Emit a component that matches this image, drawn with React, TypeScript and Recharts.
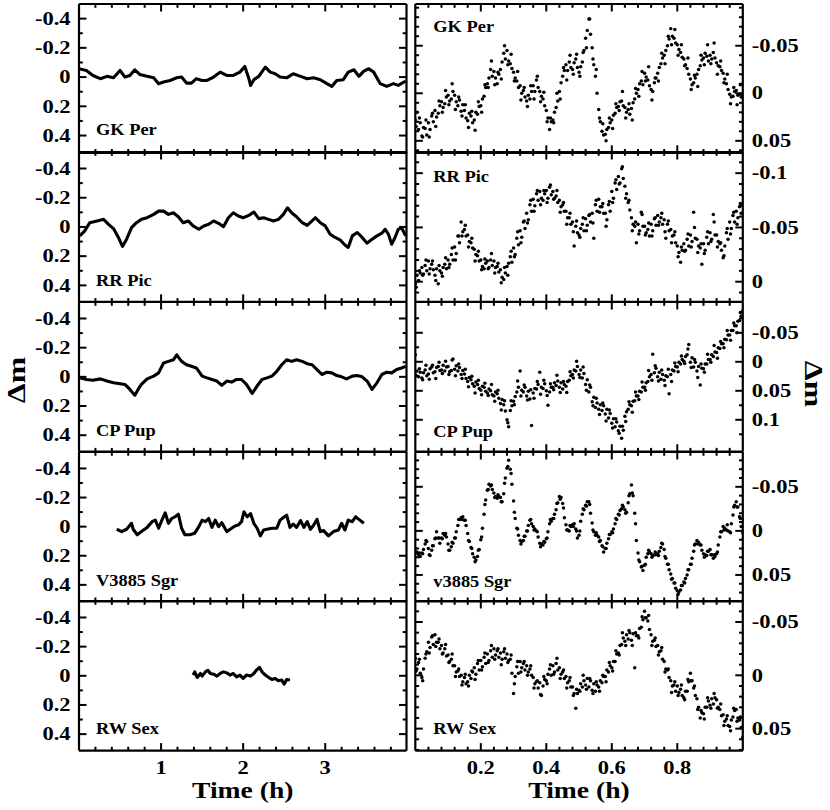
import React from 'react';
import { ComposedChart, Line, Scatter, XAxis, YAxis } from 'recharts';

const FONT = '"Liberation Serif", "Times New Roman", Times, serif';

// ---------------- axis ticks ----------------
const leftXTicks = [0.2, 0.4, 0.6, 0.8, 1, 1.2, 1.4, 1.6, 1.8, 2, 2.2, 2.4, 2.6, 2.8, 3, 3.2, 3.4, 3.6, 3.8];
const leftXMajor = [1, 2, 3];
const rightXTicks = [0.04, 0.08, 0.12, 0.16, 0.2, 0.24, 0.28, 0.32, 0.36, 0.4, 0.44, 0.48, 0.52, 0.56, 0.6, 0.64, 0.68, 0.72, 0.76, 0.8, 0.84, 0.88, 0.92, 0.96];
const rightXMajor = [0.2, 0.4, 0.6, 0.8];
const leftYTicks = [-0.4, -0.3, -0.2, -0.1, 0, 0.1, 0.2, 0.3, 0.4];
const leftYMajor = [-0.4, -0.2, 0, 0.2, 0.4];
const gkPerRTicks = [-0.09, -0.08, -0.07, -0.06, -0.05, -0.04, -0.03, -0.02, -0.01, 0, 0.01, 0.02, 0.03, 0.04, 0.05, 0.06];
const rrPicRTicks = [-0.11, -0.1, -0.09, -0.08, -0.07, -0.06, -0.05, -0.04, -0.03, -0.02, -0.01, 0, 0.01];
const cpPupRTicks = [-0.075, -0.05, -0.025, 0, 0.025, 0.05, 0.075, 0.1, 0.125];
const v3885RTicks = [-0.08, -0.07, -0.06, -0.05, -0.04, -0.03, -0.02, -0.01, 0, 0.01, 0.02, 0.03, 0.04, 0.05, 0.06, 0.07];
const rwSexRTicks = [-0.06, -0.05, -0.04, -0.03, -0.02, -0.01, 0, 0.01, 0.02, 0.03, 0.04, 0.05, 0.06, 0.07];
const rightMajorA = [-0.05, 0, 0.05];
const rightMajorRR = [-0.1, -0.05, 0];
const rightMajorCP = [-0.05, 0, 0.05, 0.1];

// ---------------- left column: full light curves (time in h, Δm) ----------------
const gkPerLT = [0.00, 0.09, 0.17, 0.26, 0.34, 0.42, 0.50, 0.56, 0.62, 0.68, 0.74, 0.83, 0.91, 0.97, 1.03, 1.11, 1.19, 1.25, 1.31, 1.37, 1.43, 1.50, 1.56, 1.64, 1.72, 1.80, 1.88, 1.96, 2.02, 2.07, 2.09, 2.13, 2.19, 2.27, 2.33, 2.39, 2.45, 2.53, 2.61, 2.70, 2.78, 2.86, 2.94, 3.02, 3.08, 3.14, 3.22, 3.28, 3.35, 3.41, 3.47, 3.53, 3.59, 3.67, 3.75, 3.83, 3.89, 3.98];
const gkPerLM = [-0.057, -0.045, -0.011, 0.011, -0.005, 0.005, -0.045, 0, -0.011, -0.05, -0.018, -0.005, 0.005, 0.045, 0.034, 0.023, 0.005, 0, 0.041, 0.041, 0.011, 0.023, 0.023, 0, -0.034, -0.011, -0.011, -0.034, -0.073, 0.011, 0.057, 0.018, -0.005, -0.068, -0.034, -0.023, 0, 0.005, -0.023, -0.005, 0.011, 0.005, 0.018, 0.045, 0.064, 0.023, 0.018, -0.034, -0.05, -0.005, -0.041, -0.057, -0.034, 0.045, 0.064, 0.045, 0.057, 0.027];

const rrPicLT = [0.01, 0.07, 0.13, 0.22, 0.30, 0.36, 0.42, 0.48, 0.53, 0.58, 0.64, 0.70, 0.76, 0.83, 0.91, 0.97, 1.03, 1.09, 1.15, 1.21, 1.27, 1.33, 1.39, 1.46, 1.52, 1.58, 1.64, 1.70, 1.76, 1.82, 1.88, 1.94, 2.00, 2.07, 2.13, 2.19, 2.25, 2.31, 2.37, 2.43, 2.49, 2.54, 2.59, 2.65, 2.72, 2.78, 2.84, 2.88, 2.94, 3.00, 3.06, 3.12, 3.18, 3.24, 3.28, 3.33, 3.39, 3.45, 3.51, 3.57, 3.63, 3.69, 3.73, 3.77, 3.81, 3.85, 3.89, 3.93, 3.98];
const rrPicLM = [0.061, 0.027, -0.029, -0.041, -0.052, -0.018, 0.011, 0.072, 0.133, 0.084, 0.005, -0.029, -0.052, -0.063, -0.086, -0.108, -0.108, -0.086, -0.097, -0.07, -0.029, -0.041, -0.007, 0.016, -0.007, -0.018, -0.041, -0.025, -0.002, -0.063, -0.097, -0.075, -0.063, -0.079, -0.102, -0.057, -0.063, -0.052, -0.041, -0.052, -0.086, -0.131, -0.097, -0.07, -0.029, -0.011, -0.041, -0.063, -0.029, -0.007, 0.05, 0.072, 0.088, 0.124, 0.14, 0.061, 0.038, 0.072, 0.111, 0.084, 0.061, 0.043, 0.016, 0.05, 0.118, 0.072, 0.016, 0.005, 0.061];

const cpPupLT = [0.01, 0.09, 0.17, 0.26, 0.34, 0.42, 0.50, 0.56, 0.62, 0.68, 0.72, 0.76, 0.83, 0.91, 0.97, 1.03, 1.09, 1.15, 1.19, 1.25, 1.31, 1.37, 1.43, 1.50, 1.56, 1.62, 1.68, 1.74, 1.80, 1.86, 1.92, 1.98, 2.04, 2.11, 2.17, 2.23, 2.29, 2.35, 2.41, 2.47, 2.53, 2.59, 2.65, 2.72, 2.78, 2.84, 2.90, 2.96, 3.02, 3.08, 3.14, 3.20, 3.26, 3.33, 3.39, 3.45, 3.51, 3.57, 3.63, 3.69, 3.75, 3.81, 3.87, 3.93, 3.98];
const cpPupLM = [0.007, 0.018, 0.023, 0.014, 0.029, 0.041, 0.047, 0.052, 0.086, 0.126, 0.086, 0.052, 0.014, -0.005, -0.027, -0.095, -0.106, -0.117, -0.151, -0.106, -0.083, -0.072, -0.061, -0.005, 0.007, 0.018, 0.029, 0.059, 0.029, 0.036, 0.018, 0.018, 0.052, 0.113, 0.063, 0.018, 0.007, -0.005, -0.038, -0.083, -0.117, -0.106, -0.117, -0.106, -0.09, -0.083, -0.05, -0.016, -0.032, -0.027, -0.009, 0, 0.014, -0.005, -0.009, 0, 0.029, 0.086, 0.041, -0.016, -0.032, -0.027, -0.05, -0.061, -0.072];

const v3885LT = [0.46, 0.52, 0.58, 0.64, 0.66, 0.71, 0.76, 0.83, 0.89, 0.93, 0.97, 1.01, 1.05, 1.09, 1.13, 1.17, 1.21, 1.25, 1.29, 1.35, 1.41, 1.46, 1.50, 1.54, 1.58, 1.62, 1.66, 1.70, 1.74, 1.80, 1.86, 1.90, 1.94, 1.98, 2.01, 2.05, 2.09, 2.13, 2.17, 2.21, 2.25, 2.29, 2.35, 2.41, 2.45, 2.49, 2.53, 2.57, 2.61, 2.65, 2.70, 2.74, 2.78, 2.82, 2.86, 2.90, 2.94, 2.98, 3.04, 3.10, 3.16, 3.20, 3.24, 3.28, 3.33, 3.37, 3.41, 3.47];
const v3885LM = [0.018, 0.034, 0.018, -0.023, 0.018, 0.056, 0.034, 0.005, -0.034, -0.045, 0.011, -0.045, -0.095, -0.023, -0.056, -0.068, -0.086, 0.011, 0.056, 0.056, 0.045, 0, -0.045, -0.034, -0.056, 0.005, -0.045, 0, -0.027, 0.034, 0.011, -0.005, -0.011, -0.034, -0.101, -0.068, -0.09, -0.023, 0.011, 0.063, 0.023, 0.018, 0.011, 0.011, -0.045, -0.063, -0.079, 0.005, -0.018, 0.005, -0.041, 0.005, -0.034, 0.018, -0.011, -0.05, 0.034, 0.027, 0.063, 0.034, 0.023, -0.023, 0.023, -0.045, -0.034, -0.068, -0.05, -0.023];

const rwSexLT = [1.39, 1.41, 1.44, 1.48, 1.50, 1.54, 1.57, 1.60, 1.64, 1.68, 1.72, 1.76, 1.80, 1.84, 1.88, 1.92, 1.96, 2.00, 2.04, 2.09, 2.13, 2.16, 2.20, 2.23, 2.27, 2.31, 2.35, 2.39, 2.43, 2.47, 2.50, 2.53, 2.57];
const rwSexLM = [-0.005, -0.027, 0.011, -0.016, 0.002, -0.027, -0.038, -0.016, -0.011, 0.002, -0.016, -0.027, -0.02, -0.005, -0.016, 0.007, -0.005, 0.018, -0.005, 0.002, -0.016, -0.038, -0.057, -0.027, -0.005, 0.011, 0.025, 0.018, 0.034, 0.029, 0.057, 0.025, 0.029];

// ---------------- right column: first hour, individual points ----------------
const rightTime = [
  0, 0.005, 0.01, 0.015, 0.02, 0.025, 0.03, 0.035, 0.04, 0.045,
  0.05, 0.055, 0.06, 0.065, 0.07, 0.075, 0.08, 0.085, 0.09, 0.095,
  0.1, 0.105, 0.11, 0.115, 0.12, 0.125, 0.13, 0.135, 0.14, 0.145,
  0.15, 0.155, 0.16, 0.165, 0.17, 0.175, 0.18, 0.185, 0.19, 0.195,
  0.2, 0.205, 0.21, 0.215, 0.22, 0.225, 0.23, 0.235, 0.24, 0.245,
  0.25, 0.255, 0.26, 0.265, 0.27, 0.275, 0.28, 0.285, 0.29, 0.295,
  0.3, 0.305, 0.31, 0.315, 0.32, 0.325, 0.33, 0.335, 0.34, 0.345,
  0.35, 0.355, 0.36, 0.365, 0.37, 0.375, 0.38, 0.385, 0.39, 0.395,
  0.4, 0.405, 0.41, 0.415, 0.42, 0.425, 0.43, 0.435, 0.44, 0.445,
  0.45, 0.455, 0.46, 0.465, 0.47, 0.475, 0.48, 0.485, 0.49, 0.495,
  0.5, 0.505, 0.51, 0.515, 0.52, 0.525, 0.53, 0.535, 0.54, 0.545,
  0.55, 0.555, 0.56, 0.565, 0.57, 0.575, 0.58, 0.585, 0.59, 0.595,
  0.6, 0.605, 0.61, 0.615, 0.62, 0.625, 0.63, 0.635, 0.64, 0.645,
  0.65, 0.655, 0.66, 0.665, 0.67, 0.675, 0.68, 0.685, 0.69, 0.695,
  0.7, 0.705, 0.71, 0.715, 0.72, 0.725, 0.73, 0.735, 0.74, 0.745,
  0.75, 0.755, 0.76, 0.765, 0.77, 0.775, 0.78, 0.785, 0.79, 0.795,
  0.8, 0.805, 0.81, 0.815, 0.82, 0.825, 0.83, 0.835, 0.84, 0.845,
  0.85, 0.855, 0.86, 0.865, 0.87, 0.875, 0.88, 0.885, 0.89, 0.895,
  0.9, 0.905, 0.91, 0.915, 0.92, 0.925, 0.93, 0.935, 0.94, 0.945,
  0.95, 0.955, 0.96, 0.965, 0.97, 0.975, 0.98, 0.985, 0.99, 0.995,
  1,
];

// second set of points, interleaved between the first set's times
const rightTime2 = [
  0.0025, 0.0125, 0.0225, 0.0325, 0.0425, 0.0525, 0.0625, 0.0725, 0.0825, 0.0925,
  0.1025, 0.1125, 0.1225, 0.1325, 0.1425, 0.1525, 0.1625, 0.1725, 0.1825, 0.1925,
  0.2025, 0.2125, 0.2225, 0.2325, 0.2425, 0.2525, 0.2625, 0.2725, 0.2825, 0.2925,
  0.3025, 0.3125, 0.3225, 0.3325, 0.3425, 0.3525, 0.3625, 0.3725, 0.3825, 0.3925,
  0.4025, 0.4125, 0.4225, 0.4325, 0.4425, 0.4525, 0.4625, 0.4725, 0.4825, 0.4925,
  0.5025, 0.5125, 0.5225, 0.5325, 0.5425, 0.5525, 0.5625, 0.5725, 0.5825, 0.5925,
  0.6025, 0.6125, 0.6225, 0.6325, 0.6425, 0.6525, 0.6625, 0.6725, 0.6825, 0.6925,
  0.7025, 0.7125, 0.7225, 0.7325, 0.7425, 0.7525, 0.7625, 0.7725, 0.7825, 0.7925,
  0.8025, 0.8125, 0.8225, 0.8325, 0.8425, 0.8525, 0.8625, 0.8725, 0.8825, 0.8925,
  0.9025, 0.9125, 0.9225, 0.9325, 0.9425, 0.9525, 0.9625, 0.9725, 0.9825, 0.9925,
];

const gkPerR = [
  0.028, 0.020, 0.038, 0.031, 0.045, 0.036, 0.037, 0.044, 0.031, 0.038, 0.024, 0.030, 0.018, 0.025, 0.021, 0.013, 0.009, 0.015, 0.011, 0.004,
  0.002, 0.008, 0.006, -0.002, 0.002, 0.009, 0.013, 0.007, 0.019, 0.012, 0.018, 0.026, 0.029, 0.021, 0.024, 0.031, 0.028, 0.020, 0.022, 0.014,
  0.013, 0.006, 0.003, -0.006, -0.010, -0.016, -0.025, -0.018, -0.023, -0.016, -0.010, -0.020, -0.025, -0.033, -0.042, -0.036, -0.045, -0.034, -0.031, -0.026,
  -0.022, -0.016, -0.013, -0.006, -0.008, 0.000, -0.003, 0.004, 0.008, 0.002, 0.006, -0.002, -0.008, -0.002, -0.014, -0.006, -0.002, 0.003, 0.006, 0.013,
  0.018, 0.026, 0.038, 0.030, 0.028, 0.020, 0.015, 0.008, -0.002, -0.011, -0.018, -0.024, -0.030, -0.024, -0.033, -0.027, -0.025, -0.032, -0.036, -0.027,
  -0.022, -0.028, -0.033, -0.045, -0.058, -0.066, -0.078, -0.062, -0.048, -0.030, -0.018, 0.000, 0.017, 0.030, 0.040, 0.044, 0.043, 0.038, 0.036, 0.031,
  0.028, 0.023, 0.021, 0.015, 0.014, 0.009, 0.008, 0.013, 0.015, 0.020, 0.017, 0.022, 0.016, 0.010, 0.006, 0.000, -0.004, -0.010, -0.013, -0.009,
  -0.021, -0.017, -0.014, -0.008, -0.004, -0.002, -0.011, -0.016, -0.021, -0.027, -0.031, -0.037, -0.040, -0.045, -0.050, -0.057, -0.068, -0.060, -0.058, -0.053,
  -0.051, -0.046, -0.043, -0.038, -0.036, -0.030, -0.026, -0.020, -0.015, -0.009, -0.011, -0.016, -0.020, -0.025, -0.029, -0.035, -0.037, -0.042, -0.039, -0.034,
  -0.040, -0.036, -0.043, -0.037, -0.032, -0.029, -0.028, -0.024, -0.021, -0.015, -0.010, -0.004, 0.001, 0.004, 0.003, -0.002, -0.003, 0.002, 0.001, 0.004,
  0.002,
];
const gkPerR2 = [
  0.035, 0.026, 0.046, 0.028, 0.046, 0.021, 0.035, 0.008, 0.020, -0.003,
  0.012, -0.010, 0.017, 0.004, 0.024, 0.012, 0.036, 0.019, 0.039, 0.009,
  0.020, -0.009, -0.006, -0.034, -0.009, -0.022, -0.015, -0.050, -0.030, -0.041,
  -0.013, -0.023, 0.007, -0.006, 0.014, -0.008, 0.006, -0.018, 0.009, -0.001,
  0.030, 0.026, 0.031, 0.000, 0.006, -0.027, -0.014, -0.040, -0.020, -0.041,
  -0.018, -0.043, -0.048, -0.078, -0.036, -0.025, 0.026, 0.032, 0.050, 0.026,
  0.037, 0.011, 0.018, -0.002, 0.026, 0.011, 0.028, -0.005, 0.003, -0.023,
  -0.013, -0.028, 0.007, -0.016, -0.013, -0.042, -0.031, -0.060, -0.051, -0.067,
  -0.040, -0.051, -0.029, -0.037, -0.004, -0.019, -0.007, -0.040, -0.030, -0.051,
  -0.031, -0.053, -0.020, -0.034, -0.011, -0.020, 0.011, -0.006, 0.012, -0.009,
];

const rrPicR = [
  0.002, -0.006, -0.001, -0.008, -0.013, -0.007, -0.015, -0.010, -0.019, -0.012, -0.016, -0.011, -0.006, -0.012, 0.002, -0.010, -0.008, -0.013, -0.016, -0.012,
  -0.020, -0.016, -0.025, -0.020, -0.032, -0.026, -0.042, -0.036, -0.055, -0.046, -0.048, -0.042, -0.043, -0.037, -0.036, -0.031, -0.030, -0.025, -0.024, -0.019,
  -0.020, -0.014, -0.012, -0.017, -0.019, -0.013, -0.020, -0.015, -0.019, -0.013, -0.014, -0.009, -0.011, -0.004, -0.002, -0.008, -0.014, -0.017, -0.023, -0.018,
  -0.031, -0.025, -0.040, -0.034, -0.047, -0.041, -0.055, -0.049, -0.063, -0.057, -0.071, -0.065, -0.076, -0.070, -0.081, -0.075, -0.083, -0.077, -0.075, -0.081,
  -0.084, -0.077, -0.087, -0.080, -0.083, -0.077, -0.079, -0.073, -0.075, -0.069, -0.071, -0.065, -0.065, -0.059, -0.059, -0.053, -0.055, -0.033, -0.051, -0.045,
  -0.043, -0.049, -0.053, -0.047, -0.058, -0.052, -0.061, -0.055, -0.063, -0.040, -0.071, -0.065, -0.076, -0.069, -0.069, -0.063, -0.063, -0.057, -0.071, -0.065,
  -0.083, -0.077, -0.091, -0.085, -0.097, -0.091, -0.104, -0.095, -0.088, -0.081, -0.073, -0.066, -0.059, -0.053, -0.051, -0.036, -0.053, -0.047, -0.064, -0.051,
  -0.051, -0.045, -0.048, -0.042, -0.053, -0.047, -0.058, -0.052, -0.061, -0.055, -0.059, -0.053, -0.057, -0.040, -0.053, -0.047, -0.048, -0.042, -0.043, -0.036,
  -0.033, -0.027, -0.018, -0.029, -0.035, -0.029, -0.039, -0.033, -0.043, -0.037, -0.064, -0.040, -0.039, -0.033, -0.031, -0.016, -0.035, -0.029, -0.041, -0.035,
  -0.045, -0.039, -0.062, -0.043, -0.043, -0.037, -0.035, -0.029, -0.022, -0.033, -0.045, -0.039, -0.055, -0.049, -0.061, -0.055, -0.065, -0.059, -0.069, -0.063,
  -0.070,
];
const rrPicR2 = [
  0.005, -0.010, -0.006, -0.020, -0.007, -0.019, -0.001, -0.015, -0.005, -0.022,
  -0.013, -0.031, -0.020, -0.042, -0.042, -0.052, -0.032, -0.040, -0.019, -0.028,
  -0.011, -0.021, -0.012, -0.026, -0.008, -0.017, 0.001, -0.013, -0.006, -0.028,
  -0.023, -0.046, -0.036, -0.056, -0.054, -0.075, -0.065, -0.084, -0.071, -0.084,
  -0.073, -0.089, -0.076, -0.084, -0.064, -0.073, -0.053, -0.063, -0.046, -0.056,
  -0.041, -0.059, -0.047, -0.062, -0.054, -0.075, -0.064, -0.072, -0.051, -0.074,
  -0.073, -0.094, -0.090, -0.106, -0.077, -0.075, -0.047, -0.055, -0.044, -0.062,
  -0.043, -0.054, -0.042, -0.059, -0.052, -0.063, -0.046, -0.056, -0.036, -0.046,
  -0.023, -0.032, -0.028, -0.044, -0.032, -0.050, -0.027, -0.035, -0.026, -0.046,
  -0.037, -0.055, -0.032, -0.036, -0.024, -0.049, -0.044, -0.064, -0.053, -0.072,
];

const cpPupR = [
  -0.012, 0.016, 0.026, 0.018, 0.028, 0.019, 0.014, 0.024, 0.021, 0.012, 0.009, 0.019, 0.017, 0.010, 0.008, 0.015, 0.014, 0.006, 0.016, 0.009,
  0.008, 0.017, 0.015, -0.005, 0.013, 0.007, 0.016, 0.010, 0.022, 0.015, 0.021, 0.029, 0.034, 0.027, 0.031, 0.038, 0.042, 0.035, 0.039, 0.046,
  0.049, 0.042, 0.044, 0.051, 0.054, 0.047, 0.050, 0.057, 0.059, 0.052, 0.055, 0.063, 0.072, 0.065, 0.074, 0.085, 0.100, 0.112, 0.084, 0.076,
  0.068, 0.060, 0.052, 0.044, 0.016, 0.049, 0.052, 0.044, 0.059, 0.051, 0.064, 0.110, 0.054, 0.046, 0.047, 0.039, 0.018, 0.044, 0.046, 0.038,
  0.050, 0.075, 0.052, 0.044, 0.044, 0.036, 0.041, 0.033, 0.044, 0.036, 0.047, 0.039, 0.042, 0.034, 0.032, 0.024, 0.022, 0.014, 0.016, 0.008,
  0.022, 0.014, 0.028, 0.020, 0.039, 0.031, 0.052, 0.044, 0.069, 0.061, 0.079, 0.071, 0.082, 0.074, 0.084, 0.076, 0.090, 0.082, 0.097, 0.089,
  0.106, 0.098, 0.112, 0.104, 0.119, 0.111, 0.132, 0.118, 0.094, 0.086, 0.082, 0.074, 0.076, 0.068, 0.067, 0.059, 0.059, 0.051, 0.052, 0.044,
  0.044, 0.036, 0.034, 0.026, 0.022, -0.013, 0.019, 0.011, 0.026, 0.018, 0.030, 0.022, 0.032, 0.024, 0.026, 0.055, 0.022, 0.014, 0.016, 0.008,
  0.009, 0.001, 0.004, -0.004, -0.001, -0.009, -0.012, -0.030, 0.001, -0.007, 0.009, 0.001, 0.016, 0.008, 0.040, 0.011, 0.012, 0.004, 0.004, -0.004,
  -0.004, -0.012, -0.009, -0.017, -0.016, -0.024, -0.023, -0.031, -0.031, -0.039, -0.038, -0.046, -0.046, -0.054, -0.054, -0.062, -0.062, -0.070, -0.071, -0.079,
  -0.088,
];
const cpPupR2 = [
  0.023, 0.012, 0.031, 0.006, 0.030, 0.006, 0.029, 0.001, 0.020, -0.001,
  0.022, -0.003, 0.024, 0.004, 0.029, 0.013, 0.043, 0.025, 0.054, 0.032,
  0.057, 0.037, 0.058, 0.039, 0.068, 0.049, 0.083, 0.067, 0.105, 0.067,
  0.074, 0.033, 0.059, 0.040, 0.066, 0.048, 0.063, 0.034, 0.056, 0.032,
  0.058, 0.038, 0.048, 0.023, 0.053, 0.034, 0.053, 0.017, 0.028, -0.001,
  0.027, 0.009, 0.049, 0.040, 0.076, 0.063, 0.091, 0.071, 0.102, 0.083,
  0.114, 0.098, 0.123, 0.111, 0.103, 0.069, 0.087, 0.052, 0.065, 0.035,
  0.049, 0.015, 0.032, 0.007, 0.033, 0.014, 0.041, 0.013, 0.034, 0.002,
  0.017, -0.010, 0.003, -0.022, 0.010, -0.004, 0.027, 0.004, 0.018, -0.013,
  0.001, -0.028, -0.006, -0.035, -0.024, -0.054, -0.037, -0.067, -0.050, -0.085,
];

const v3885R = [
  0.020, 0.024, 0.027, 0.029, 0.025, 0.021, 0.015, 0.012, 0.020, 0.028,
  0.022, 0.017, 0.009, 0.001, 0.008, 0.014, 0.008, 0.003, 0.005, 0.007,
  0.015, 0.022, 0.018, 0.014, 0.008, 0.001, -0.006, -0.013, -0.015, -0.016,
  -0.012, -0.006, 0.003, 0.012, 0.019, 0.026, 0.030, 0.033, 0.029, 0.021,
  0.010, -0.003, -0.019, -0.035, -0.046, -0.053, -0.051, -0.047, -0.043, -0.039,
  -0.037, -0.039, -0.038, -0.033, -0.042, -0.060, -0.071, -0.080, -0.070, -0.053,
  -0.034, -0.014, -0.003, 0.005, 0.011, 0.012, 0.011, 0.006, 0.000, -0.006,
  -0.012, -0.008, -0.005, -0.002, 0.000, 0.007, 0.014, 0.015, 0.016, 0.013,
  0.009, 0.001, -0.008, -0.011, -0.014, -0.019, -0.024, -0.032, -0.039, -0.038,
  -0.031, -0.015, -0.007, -0.001, 0.000, -0.005, -0.007, -0.008, -0.002, 0.008,
  0.005, -0.011, -0.019, -0.024, -0.029, -0.033, -0.033, -0.020, -0.009, 0.001,
  0.005, 0.005, 0.007, 0.011, 0.017, 0.024, 0.020, 0.014, 0.009, 0.004,
  0.001, -0.002, -0.008, -0.013, -0.019, -0.023, -0.025, -0.027, -0.024, -0.021,
  -0.032, -0.042, -0.052, -0.040, -0.020, 0.011, 0.025, 0.035, 0.041, 0.045,
  0.039, 0.030, 0.026, 0.024, 0.026, 0.028, 0.027, 0.027, 0.026, 0.023,
  0.019, 0.015, 0.021, 0.031, 0.038, 0.044, 0.049, 0.054, 0.059, 0.065,
  0.068, 0.069, 0.067, 0.062, 0.058, 0.054, 0.050, 0.044, 0.038, 0.031,
  0.023, 0.015, 0.011, 0.013, 0.016, 0.022, 0.026, 0.027, 0.028, 0.023,
  0.021, 0.027, 0.031, 0.029, 0.026, 0.016, 0.007, 0.001, -0.005, -0.003,
  -0.001, 0.000, 0.001, -0.008, -0.018, -0.029, -0.033, -0.027, -0.016, -0.005,
  0.002,
];
const v3885R2 = [
  0.025, 0.025, 0.026, 0.011, 0.027, 0.017, 0.008, 0.008, 0.009, 0.003,
  0.022, 0.013, 0.008, -0.013, -0.013, -0.012, 0.011, 0.020, 0.035, 0.022,
  0.007, -0.030, -0.047, -0.052, -0.038, -0.041, -0.033, -0.054, -0.073, -0.065,
  -0.021, -0.002, 0.015, 0.006, 0.000, -0.013, -0.001, 0.001, 0.018, 0.012,
  0.008, -0.013, -0.014, -0.031, -0.036, -0.026, -0.001, -0.006, -0.005, 0.000,
  0.000, -0.025, -0.028, -0.030, -0.001, 0.002, 0.012, 0.018, 0.020, 0.004,
  0.002, -0.014, -0.018, -0.029, -0.020, -0.040, -0.043, -0.008, 0.033, 0.040,
  0.038, 0.022, 0.030, 0.024, 0.028, 0.014, 0.029, 0.038, 0.055, 0.059,
  0.072, 0.062, 0.059, 0.044, 0.038, 0.016, 0.015, 0.016, 0.030, 0.023,
  0.027, 0.027, 0.024, 0.001, -0.001, -0.007, 0.002, -0.027, -0.027, -0.014,
];

const rwSexR = [
  -0.016, -0.006, -0.012, -0.002, 0.002, -0.006, -0.016, -0.022, -0.031, -0.026, -0.036, -0.029, -0.038, -0.031, -0.031, -0.025, -0.028, -0.021, -0.025, -0.018,
  -0.019, -0.013, -0.015, -0.009, -0.009, -0.003, -0.004, 0.001, 0.000, 0.006, 0.002, 0.008, 0.006, 0.000, 0.003, -0.003, -0.007, -0.001, -0.011, -0.005,
  -0.014, -0.008, -0.017, -0.011, -0.020, -0.014, -0.023, -0.017, -0.025, -0.019, -0.023, -0.017, -0.021, -0.015, -0.022, -0.016, -0.020, -0.014, -0.015, -0.002,
  0.017, 0.001, -0.008, -0.002, -0.013, -0.007, -0.011, -0.005, -0.009, -0.003, -0.006, 0.000, 0.002, 0.008, 0.006, 0.012, 0.007, 0.019, 0.010, 0.004,
  0.005, -0.001, -0.006, 0.000, -0.009, -0.003, -0.011, -0.005, -0.007, -0.001, -0.003, 0.003, 0.001, 0.007, 0.005, 0.011, 0.011, 0.017, 0.031, 0.017,
  0.014, 0.008, 0.011, 0.005, 0.009, 0.003, 0.011, 0.005, 0.014, 0.008, 0.015, 0.009, 0.011, 0.005, 0.007, 0.001, 0.001, -0.005, -0.003, -0.009,
  -0.007, -0.013, -0.013, -0.020, -0.021, -0.028, -0.029, -0.035, -0.032, -0.038, -0.034, -0.040, -0.033, -0.039, -0.007, -0.037, -0.037, -0.044, -0.045, -0.052,
  -0.060, -0.054, -0.051, -0.043, -0.038, -0.032, -0.033, -0.027, -0.028, -0.022, -0.023, -0.015, -0.013, -0.006, -0.005, 0.002, 0.005, 0.010, 0.009, 0.015,
  0.010, 0.016, 0.013, 0.019, 0.021, 0.015, 0.015, 0.006, -0.002, 0.005, 0.012, 0.019, 0.022, 0.030, 0.040, 0.035, 0.036, 0.030, 0.030, 0.024,
  0.028, 0.022, 0.027, 0.021, 0.023, 0.030, 0.032, 0.038, 0.037, 0.043, 0.041, 0.047, 0.048, 0.042, 0.039, 0.033, 0.032, 0.040, 0.042, 0.049,
  0.058,
];
const rwSexR2 = [
  -0.004, -0.015, 0.005, -0.020, -0.021, -0.037, -0.027, -0.034, -0.020, -0.029,
  -0.012, -0.020, 0.001, -0.006, 0.009, -0.001, 0.010, -0.004, 0.004, -0.014,
  -0.005, -0.021, -0.012, -0.028, -0.015, -0.025, -0.010, -0.025, -0.012, -0.019,
  0.008, -0.013, -0.003, -0.013, 0.000, -0.009, 0.012, 0.005, 0.018, 0.001,
  0.008, -0.010, -0.001, -0.016, 0.003, -0.005, 0.012, 0.002, 0.019, 0.013,
  0.015, 0.000, 0.013, 0.003, 0.017, 0.006, 0.015, 0.000, 0.006, -0.012,
  -0.004, -0.023, -0.019, -0.040, -0.028, -0.042, -0.028, -0.040, -0.035, -0.055,
  -0.054, -0.056, -0.028, -0.035, -0.019, -0.026, -0.003, -0.006, 0.016, 0.006,
  0.019, 0.009, 0.023, 0.004, 0.005, 0.010, 0.032, 0.033, 0.041, 0.021,
  0.031, 0.017, 0.031, 0.027, 0.047, 0.038, 0.052, 0.031, 0.043, 0.039,
];

// ---------------- layout ----------------
const ROW_TOP = [3.5, 152.3, 302.2, 451.9, 601.2];
const ROW_BOT = [152.3, 302.2, 451.9, 601.2, 750.8];
const PAD = 12;
const AX = { stroke: '#000', strokeWidth: 2.2 };
const labelStyle: React.CSSProperties = { fontFamily: FONT, fontWeight: 700, fontSize: 18, fill: '#000' };

const leftPanels = [
  { name: 'GK Per', t: gkPerLT, m: gkPerLM, domain: [-0.50, 0.518], labelY: 135 },
  { name: 'RR Pic', t: rrPicLT, m: rrPicLM, domain: [-0.513, 0.513], labelY: 285.5 },
  { name: 'CP Pup', t: cpPupLT, m: cpPupLM, domain: [-0.513, 0.513], labelY: 435.5 },
  { name: 'V3885 Sgr', t: v3885LT, m: v3885LM, domain: [-0.513, 0.513], labelY: 585.5 },
  { name: 'RW Sex', t: rwSexLT, m: rwSexLM, domain: [-0.513, 0.513], labelY: 734 },
];

const rightPanels = [
  { name: 'GK Per', m: gkPerR, m2: gkPerR2, domain: [-0.0939, 0.0626], ticks: gkPerRTicks, major: rightMajorA, labelY: 31.5 },
  { name: 'RR Pic', m: rrPicR, m2: rrPicR2, domain: [-0.1195, 0.0186], ticks: rrPicRTicks, major: rightMajorRR, labelY: 181.5 },
  { name: 'CP Pup', m: cpPupR, m2: cpPupR2, domain: [-0.1031, 0.155], ticks: cpPupRTicks, major: rightMajorCP, labelY: 436.5 },
  { name: 'v3885 Sgr', m: v3885R, m2: v3885R2, domain: [-0.0895, 0.0799], ticks: v3885RTicks, major: rightMajorA, labelY: 586.5 },
  { name: 'RW Sex', m: rwSexR, m2: rwSexR2, domain: [-0.0697, 0.0706], ticks: rwSexRTicks, major: rightMajorA, labelY: 734 },
];

const isIn = (arr: number[], v: number) => arr.some((a) => Math.abs(a - v) < 1e-9);
const fmt = (v: number) => (Math.abs(v) < 1e-12 ? '0' : String(v));

function makeYTick(side: 'left' | 'right', major: number[], labeled: boolean) {
  return function YTick(p: any) {
    const v = p.payload.value;
    const mj = isIn(major, v);
    const len = mj ? 7.5 : 3.8;
    const d = side === 'left' ? 1 : -1;
    const lx = side === 'left' ? p.x - 8.5 : p.x + 9;
    return (
      <g>
        <line x1={p.x} y1={p.y} x2={p.x + d * len} y2={p.y} stroke="#000" strokeWidth={2} />
        {labeled && mj ? (
          <text
            transform={`translate(${lx},${p.y}) scale(1.25,1)`}
            textAnchor={side === 'left' ? 'end' : 'start'}
            dominantBaseline="central"
            style={labelStyle}
          >
            {fmt(v)}
          </text>
        ) : null}
      </g>
    );
  };
}

function makeXTick(side: 'top' | 'bottom', major: number[], labeled: boolean) {
  return function XTick(p: any) {
    const v = p.payload.value;
    const mj = isIn(major, v);
    const len = mj ? 7.5 : 3.8;
    const d = side === 'bottom' ? -1 : 1;
    return (
      <g>
        <line x1={p.x} y1={p.y} x2={p.x} y2={p.y + d * len} stroke="#000" strokeWidth={2} />
        {labeled && mj ? (
          <text transform={`translate(${p.x},${p.y + 23.5}) scale(1.25,1)`} textAnchor="middle" style={labelStyle}>
            {fmt(v)}
          </text>
        ) : null}
      </g>
    );
  };
}

function LeftPanel({ i }: { i: number }) {
  const p = leftPanels[i];
  const data = p.t.map((t, k) => ({ t, v: p.m[k] }));
  const h = ROW_BOT[i] - ROW_TOP[i];
  const last = i === 4;
  const bottomPad = last ? 45 : PAD;
  return (
    <div style={{ position: 'absolute', left: 0, top: ROW_TOP[i] - PAD }}>
      <ComposedChart width={412} height={h + PAD + bottomPad} data={data} margin={{ top: PAD - 1, right: 4.5, bottom: bottomPad - 1, left: 78 }}>
        <XAxis xAxisId="b" orientation="bottom" dataKey="t" type="number" domain={[0, 3.99]} allowDataOverflow ticks={leftXTicks} interval={0} tickSize={0} tickMargin={0} height={1} axisLine={AX} tickLine={false} tick={makeXTick('bottom', leftXMajor, last)} />
        <XAxis xAxisId="t" orientation="top" dataKey="t" type="number" domain={[0, 3.99]} allowDataOverflow ticks={leftXTicks} interval={0} tickSize={0} tickMargin={0} height={1} axisLine={AX} tickLine={false} tick={makeXTick('top', leftXMajor, false)} />
        <YAxis yAxisId="l" orientation="left" dataKey="v" type="number" domain={p.domain} reversed allowDataOverflow ticks={leftYTicks} interval={0} width={1} tickSize={0} tickMargin={0} axisLine={AX} tickLine={false} tick={makeYTick('left', leftYMajor, true)} />
        <YAxis yAxisId="r" orientation="right" dataKey="v" type="number" domain={p.domain} reversed allowDataOverflow ticks={leftYTicks} interval={0} width={1} tickSize={0} tickMargin={0} axisLine={AX} tickLine={false} tick={makeYTick('right', leftYMajor, false)} />
        <Line xAxisId="b" yAxisId="l" type="linear" dataKey="v" stroke="#000" strokeWidth={3.1} strokeLinejoin="round" dot={false} isAnimationActive={false} />
      </ComposedChart>
    </div>
  );
}

function Dot(props: any) {
  if (props.cx == null || props.cy == null) return null;
  return <circle cx={props.cx} cy={props.cy} r={1.75} fill="#000" />;
}

function RightPanel({ i }: { i: number }) {
  const p = rightPanels[i];
  const data = rightTime.map((t, k) => ({ t, v: p.m[k] }));
  const data2 = rightTime2.map((t, k) => ({ t, v: p.m2[k] }));
  const h = ROW_BOT[i] - ROW_TOP[i];
  const last = i === 4;
  const bottomPad = last ? 45 : PAD;
  return (
    <div style={{ position: 'absolute', left: 405, top: ROW_TOP[i] - PAD }}>
      <ComposedChart width={425} height={h + PAD + bottomPad} data={data} margin={{ top: PAD - 1, right: 86.2, bottom: bottomPad - 1, left: 9.3 }}>
        <XAxis xAxisId="b" orientation="bottom" dataKey="t" type="number" domain={[0, 1]} allowDataOverflow ticks={rightXTicks} interval={0} tickSize={0} tickMargin={0} height={1} axisLine={AX} tickLine={false} tick={makeXTick('bottom', rightXMajor, last)} />
        <XAxis xAxisId="t" orientation="top" dataKey="t" type="number" domain={[0, 1]} allowDataOverflow ticks={rightXTicks} interval={0} tickSize={0} tickMargin={0} height={1} axisLine={AX} tickLine={false} tick={makeXTick('top', rightXMajor, false)} />
        <YAxis yAxisId="l" orientation="left" dataKey="v" type="number" domain={p.domain} reversed allowDataOverflow ticks={p.ticks} interval={0} width={1} tickSize={0} tickMargin={0} axisLine={AX} tickLine={false} tick={makeYTick('left', p.major, false)} />
        <YAxis yAxisId="r" orientation="right" dataKey="v" type="number" domain={p.domain} reversed allowDataOverflow ticks={p.ticks} interval={0} width={1} tickSize={0} tickMargin={0} axisLine={AX} tickLine={false} tick={makeYTick('right', p.major, true)} />
        <Scatter xAxisId="b" yAxisId="l" data={data} dataKey="v" fill="#000" shape={Dot} isAnimationActive={false} />
        <Scatter xAxisId="b" yAxisId="l" data={data2} dataKey="v" fill="#000" shape={Dot} isAnimationActive={false} />
      </ComposedChart>
    </div>
  );
}

export default function App() {
  const nameStyle: React.CSSProperties = { fontFamily: FONT, fontWeight: 700, fontSize: 16, fill: '#000' };
  const bigStyle: React.CSSProperties = { fontFamily: FONT, fontWeight: 700, fontSize: 23, fill: '#000' };
  const dmStyle: React.CSSProperties = { fontFamily: FONT, fontWeight: 700, fontSize: 26, fill: '#000' };
  return (
    <div style={{ position: 'relative', width: 830, height: 810, background: '#fff', overflow: 'hidden' }}>
      <style>{'body{margin:0;background:#fff}'}</style>
      {leftPanels.map((_, i) => (
        <LeftPanel key={'l' + i} i={i} />
      ))}
      {rightPanels.map((_, i) => (
        <RightPanel key={'r' + i} i={i} />
      ))}
      <svg width={830} height={810} style={{ position: 'absolute', left: 0, top: 0, pointerEvents: 'none' }}>
        {leftPanels.map((p, i) => (
          <text key={'ln' + i} transform={`translate(96,${p.labelY}) scale(1.15,1)`} style={nameStyle}>
            {p.name}
          </text>
        ))}
        {rightPanels.map((p, i) => (
          <text key={'rn' + i} transform={`translate(433.3,${p.labelY}) scale(1.15,1)`} style={nameStyle}>
            {p.name}
          </text>
        ))}
        <text transform="translate(242.75,798) scale(1.2,1)" textAnchor="middle" style={bigStyle}>
          Time (h)
        </text>
        <text transform="translate(579,798) scale(1.2,1)" textAnchor="middle" style={bigStyle}>
          Time (h)
        </text>
        <text transform="translate(24.5,380) rotate(-90) scale(1.22,1)" textAnchor="middle" style={dmStyle}>
          Δm
        </text>
        <text transform="translate(805,384) rotate(90) scale(1.22,1)" textAnchor="middle" style={dmStyle}>
          Δm
        </text>
      </svg>
    </div>
  );
}
